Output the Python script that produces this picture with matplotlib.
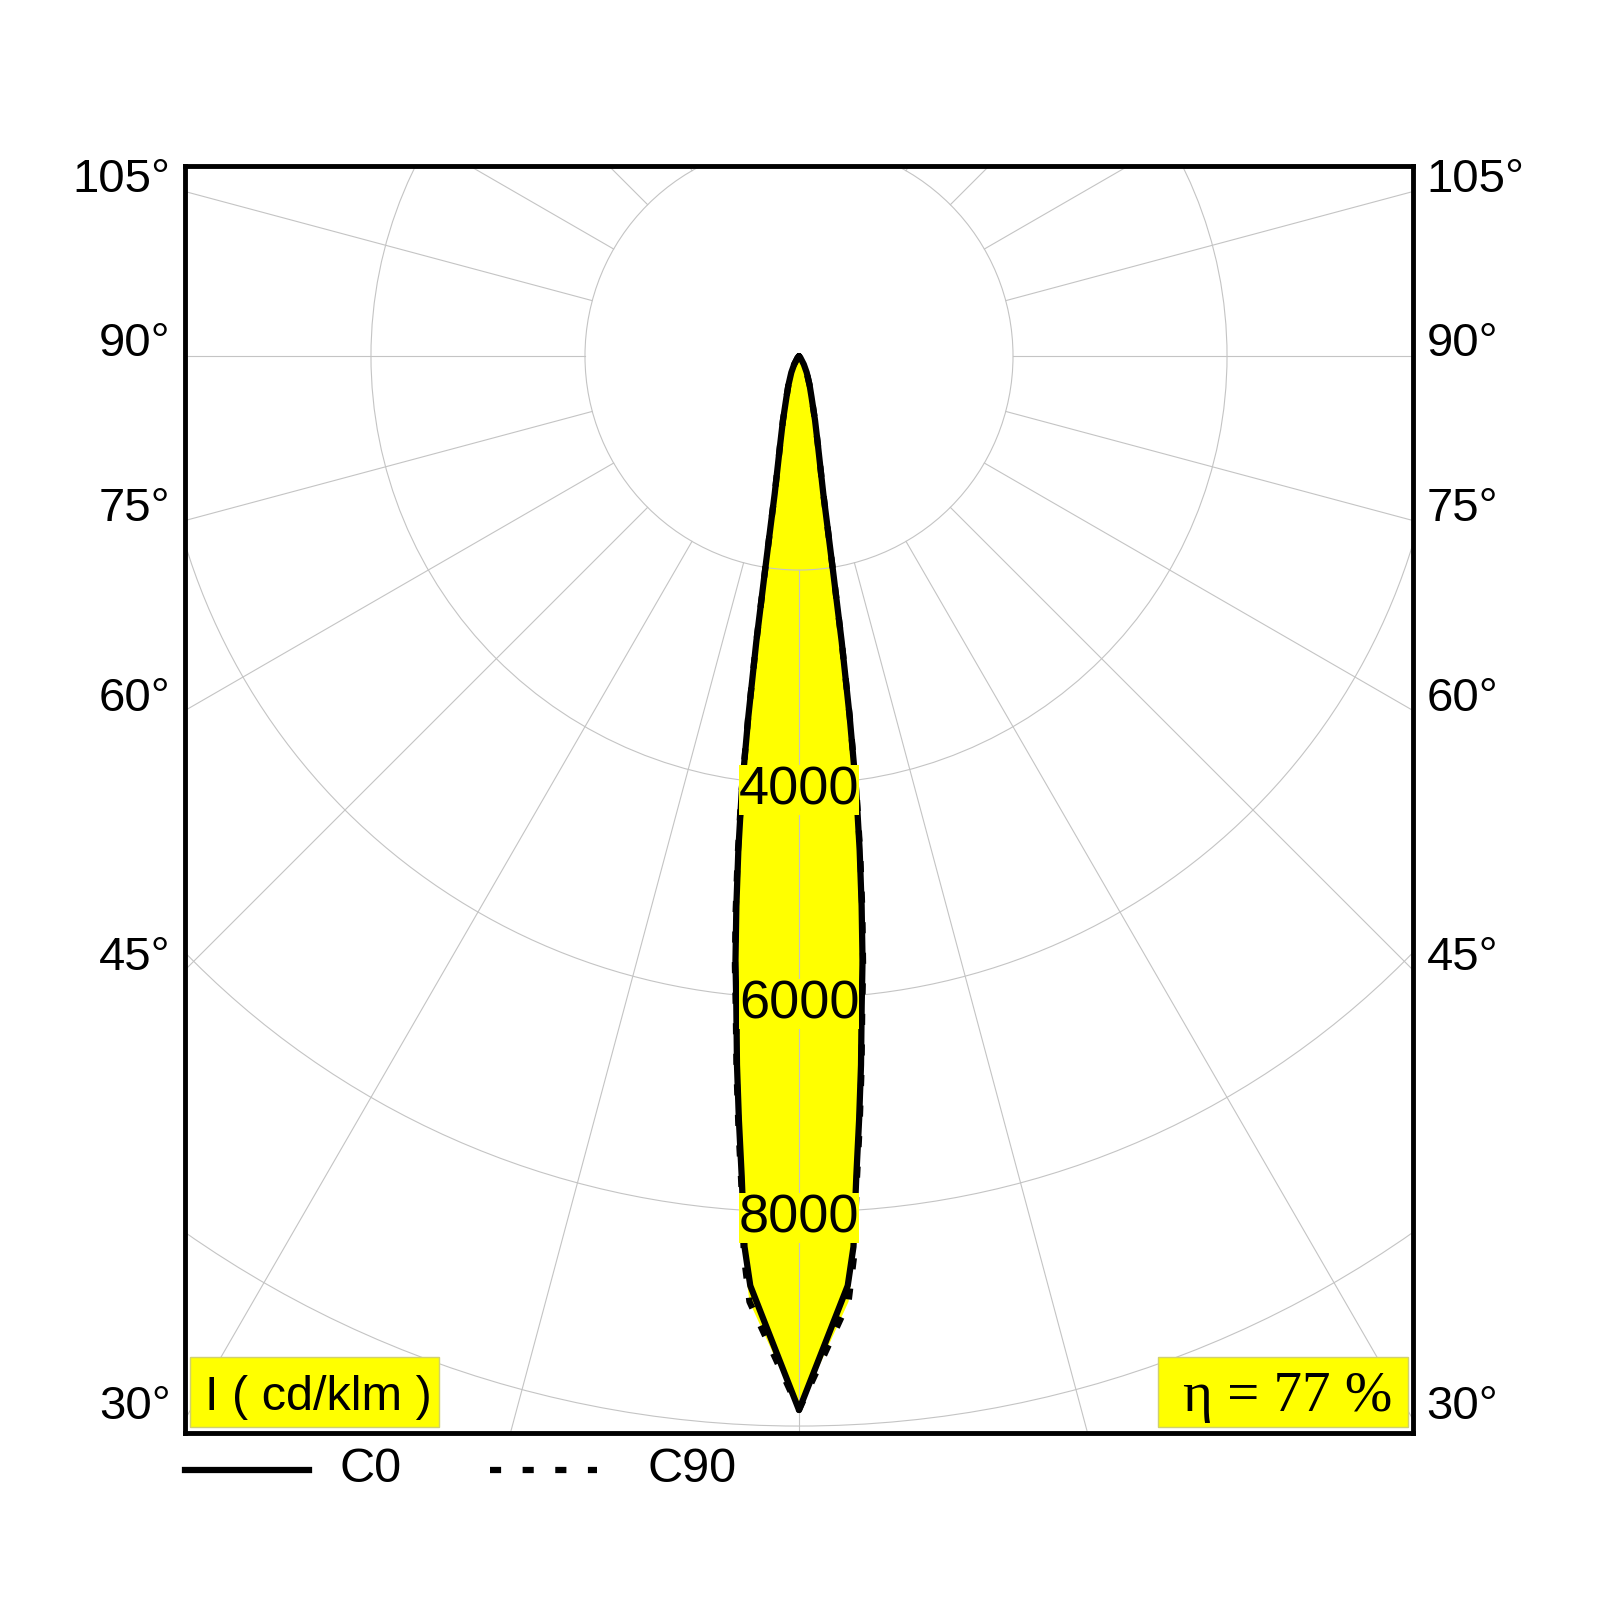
import numpy as np
import matplotlib
matplotlib.use('Agg')
import matplotlib.pyplot as plt
from matplotlib.patches import Circle, Rectangle
from matplotlib.lines import Line2D

plt.rcParams['font.family'] = ['Liberation Sans', 'DejaVu Sans']
plt.rcParams['lines.scale_dashes'] = False

# --------------------------------------------------
# Photometric data (cd/klm)
# --------------------------------------------------
gamma = [0, 3, 3.5, 4, 4.5, 5, 5.5, 6, 6.5, 7, 7.5, 8, 8.5, 9, 9.5,
         10, 11, 12, 14, 17, 20, 25, 30, 40, 50, 180]
c0 = [9850, 8700, 8340, 7680, 7160, 6650, 6110, 5680, 5170, 4650, 4100,
      3400, 2700, 2030, 1600, 1310, 1030, 850, 620, 400, 290, 170, 90,
      20, 0, 0]
c90 = [9850, 8850, 8430, 7740, 7220, 6700, 6160, 5730, 5230, 4700, 4130,
       3420, 2700, 2030, 1600, 1310, 1030, 850, 620, 400, 290, 170, 90,
       20, 0, 0]

ring_values = [2000, 4000, 6000, 8000, 10000, 12000]
ring_labels = [4000, 6000, 8000]
angle_labels = [105, 90, 75, 60, 45, 30]
unit_text = 'I ( cd/klm )'
eta_text = 'η = 77 %'

# plot window in cd/klm (centre of the polar diagram at 0,0)
x_half = 5738
y_top = 1776
y_bottom = -10065

GRID = '#c4c4c4'
YELLOW = '#ffff00'


def polar_xy(g, vals):
    g = np.asarray(g, dtype=float)
    v = np.asarray(vals, dtype=float)
    gg = np.concatenate([-g[::-1], g[1:]])
    vv = np.concatenate([v[::-1], v[1:]])
    rad = np.radians(gg)
    return vv * np.sin(rad), -vv * np.cos(rad)


fig = plt.figure(figsize=(16, 16), dpi=100)
fig.patch.set_facecolor('white')
ax = fig.add_axes([185 / 1600, 1 - 1433 / 1600, 1228 / 1600, 1267 / 1600])
ax.set_xlim(-x_half, x_half)
ax.set_ylim(y_bottom, y_top)
ax.set_xticks([])
ax.set_yticks([])
for sp in ax.spines.values():
    sp.set_linewidth(3.5)
    sp.set_color('black')
    sp.set_zorder(10)

# fill first, grid drawn over it
x0, y0 = polar_xy(gamma, c0)
x90, y90 = polar_xy(gamma, c90)
ax.fill(x90, y90, color=YELLOW, zorder=1, lw=0)
ax.fill(x0, y0, color=YELLOW, zorder=1, lw=0)

# rings
for r in ring_values:
    ax.add_patch(Circle((0, 0), r, fill=False, ec=GRID, lw=0.8, zorder=2))

# radial lines every 15 deg starting at the first ring
for a in range(-180, 181, 15):
    t = np.radians(a)
    ax.plot([ring_values[0] * np.sin(t), 20000 * np.sin(t)],
            [-ring_values[0] * np.cos(t), -20000 * np.cos(t)],
            color=GRID, lw=0.8, zorder=2)

# curves
ax.plot(x90, y90, color='black', lw=4.5, ls=(0, (8, 14)), zorder=3,
        dash_capstyle='butt')
ax.plot(x0, y0, color='black', lw=4.5, zorder=4,
        solid_joinstyle='round', solid_capstyle='round')

# ring labels
for r in ring_labels:
    ax.text(0, -r - 60, str(r), fontsize=39, ha='center', va='center',
            zorder=6, bbox=dict(boxstyle='square,pad=0', fc=YELLOW, ec='none'))

# gamma labels at the frame edges
for a in angle_labels:
    t = np.radians(a)
    y = -x_half * np.cos(t) / np.sin(t)
    ax.text(-x_half - 135, y, f'{a}°', fontsize=34, ha='right', va='baseline',
            clip_on=False)
    ax.text(x_half + 125, y, f'{a}°', fontsize=34, ha='left', va='baseline',
            clip_on=False)

# yellow boxes at the bottom
fig.add_artist(Rectangle((190 / 1600, 1 - 1427 / 1600), 249 / 1600, 70 / 1600,
                         transform=fig.transFigure, fc=YELLOW, ec='#d0d070',
                         lw=1, zorder=20))
fig.text(205 / 1600, 1 - 1397 / 1600, unit_text, fontsize=35, ha='left',
         va='center', zorder=21)
fig.add_artist(Rectangle((1158 / 1600, 1 - 1427 / 1600), 250 / 1600, 70 / 1600,
                         transform=fig.transFigure, fc=YELLOW, ec='#d0d070',
                         lw=1, zorder=20))
fig.text(1288 / 1600, 1 - 1397 / 1600, eta_text, fontsize=41, ha='center',
         va='center', zorder=21, family=['Liberation Serif', 'DejaVu Serif'])

# legend below the frame
ly = 1 - 1470 / 1600
fig.add_artist(Line2D([185 / 1600, 309 / 1600], [ly, ly], color='black',
                      lw=4.5, transform=fig.transFigure))
fig.text(340 / 1600, ly, 'C0', fontsize=35, ha='left', va='center')
fig.add_artist(Line2D([490 / 1600, 597 / 1600], [ly, ly], color='black',
                      lw=4.5, ls=(0, (8, 15.5)), dash_capstyle='butt',
                      transform=fig.transFigure))
fig.text(647 / 1600, ly, 'C90', fontsize=35, ha='left', va='center')

fig.savefig('out.png', dpi=100, facecolor='white')
